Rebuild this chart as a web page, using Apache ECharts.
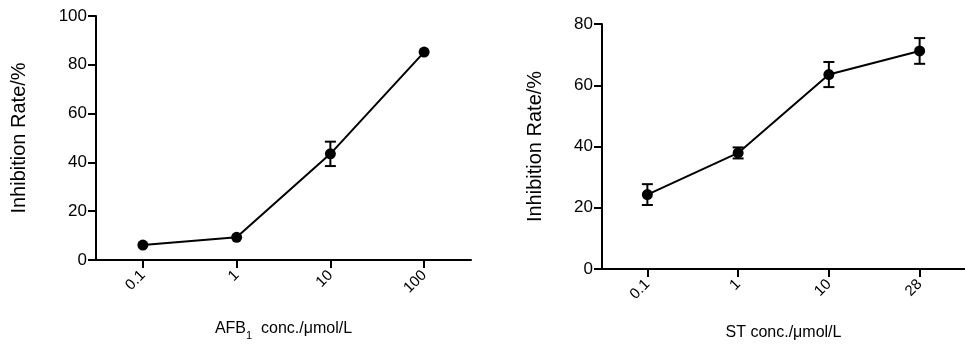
<!DOCTYPE html>
<html>
<head>
<meta charset="utf-8">
<style>
  html, body { margin: 0; padding: 0; background: #fff; }
  #chart { width: 965px; height: 346px; }
</style>
<script src="https://cdn.jsdelivr.net/npm/echarts@6/dist/echarts.min.js"></script>
</head>
<body>
<div id="chart"></div>
<script>
'use strict';

// left panel: AFB1
var afbConc = ['0.1', '1', '10', '100'];
var afbMean = [6.1, 9.3, 43.5, 85.2];
var afbErr = [0, 0, 5.0, 0];

// right panel: ST
var stConc = ['0.1', '1', '10', '28'];
var stMean = [24.3, 37.9, 63.5, 71.2];
var stErr = [3.4, 1.8, 4.1, 4.2];

var FONT = '"Liberation Sans", Arial, sans-serif';

function errData(mean, err) {
    return mean.map(function (m, i) {
        return [i, m - err[i], m + err[i]];
    });
}

function errSeries(idx, data) {
    return {
        type: 'custom',
        xAxisIndex: idx,
        yAxisIndex: idx,
        silent: true,
        z: 3,
        data: data,
        renderItem: function (params, api) {
            var lo = api.coord([api.value(0), api.value(1)]);
            var hi = api.coord([api.value(0), api.value(2)]);
            if (Math.abs(hi[1] - lo[1]) < 1) return null;
            var w = 5.5;
            var style = { stroke: '#000', lineWidth: 2 };
            return {
                type: 'group',
                children: [
                    { type: 'line', shape: { x1: lo[0], y1: lo[1], x2: hi[0], y2: hi[1] }, style: style },
                    { type: 'line', shape: { x1: hi[0] - w, y1: hi[1], x2: hi[0] + w, y2: hi[1] }, style: style },
                    { type: 'line', shape: { x1: lo[0] - w, y1: lo[1], x2: lo[0] + w, y2: lo[1] }, style: style }
                ]
            };
        }
    };
}

function xAxisOf(idx, cats, name, gap) {
    return {
        type: 'category',
        gridIndex: idx,
        data: cats,
        boundaryGap: true,
        name: name,
        nameLocation: 'middle',
        nameGap: gap,
        nameTextStyle: {
            color: '#000', fontFamily: FONT, fontSize: 16,
            rich: {
                a: { color: '#000', fontFamily: FONT, fontSize: 16 },
                s: { color: '#000', fontFamily: FONT, fontSize: 11, verticalAlign: 'bottom', padding: [0, 0, -4, 0] }
            }
        },
        axisLine: { show: true, lineStyle: { color: '#000', width: 2 } },
        axisTick: { show: true, alignWithLabel: true, length: 8, lineStyle: { color: '#000', width: 2 } },
        axisLabel: { rotate: 45, color: '#000', fontFamily: FONT, fontSize: 15, margin: 13 },
        splitLine: { show: false }
    };
}

function yAxisOf(idx, max, gap) {
    return {
        type: 'value',
        gridIndex: idx,
        min: 0,
        max: max,
        interval: 20,
        name: 'Inhibition Rate/%',
        nameLocation: 'middle',
        nameGap: gap,
        nameTextStyle: { color: '#000', fontFamily: FONT, fontSize: 20 },
        axisLine: { show: true, lineStyle: { color: '#000', width: 2 } },
        axisTick: { show: true, length: 8, lineStyle: { color: '#000', width: 2 } },
        axisLabel: { color: '#000', fontFamily: FONT, fontSize: 17, margin: 9 },
        splitLine: { show: false }
    };
}

function lineSeries(idx, data) {
    return {
        type: 'line',
        xAxisIndex: idx,
        yAxisIndex: idx,
        data: data,
        symbol: 'circle',
        symbolSize: 11,
        z: 4,
        itemStyle: { color: '#000' },
        lineStyle: { color: '#000', width: 2 },
        animation: false
    };
}

var chart = echarts.init(document.getElementById('chart'), null, { renderer: 'canvas' });
chart.setOption({
    backgroundColor: '#fff',
    animation: false,
    grid: [
        { left: 96, top: 16, width: 375, height: 245 },
        { left: 602, top: 24, width: 368, height: 245 }
    ],
    xAxis: [
        xAxisOf(0, afbConc, '{a|AFB}{s|1}{a|  conc./μmol/L}', 61),
        xAxisOf(1, stConc, 'ST conc./μmol/L', 56)
    ],
    yAxis: [
        yAxisOf(0, 100, 67),
        yAxisOf(1, 80, 57)
    ],
    series: [
        lineSeries(0, afbMean),
        errSeries(0, errData(afbMean, afbErr)),
        lineSeries(1, stMean),
        errSeries(1, errData(stMean, stErr))
    ]
});
</script>
</body>
</html>
